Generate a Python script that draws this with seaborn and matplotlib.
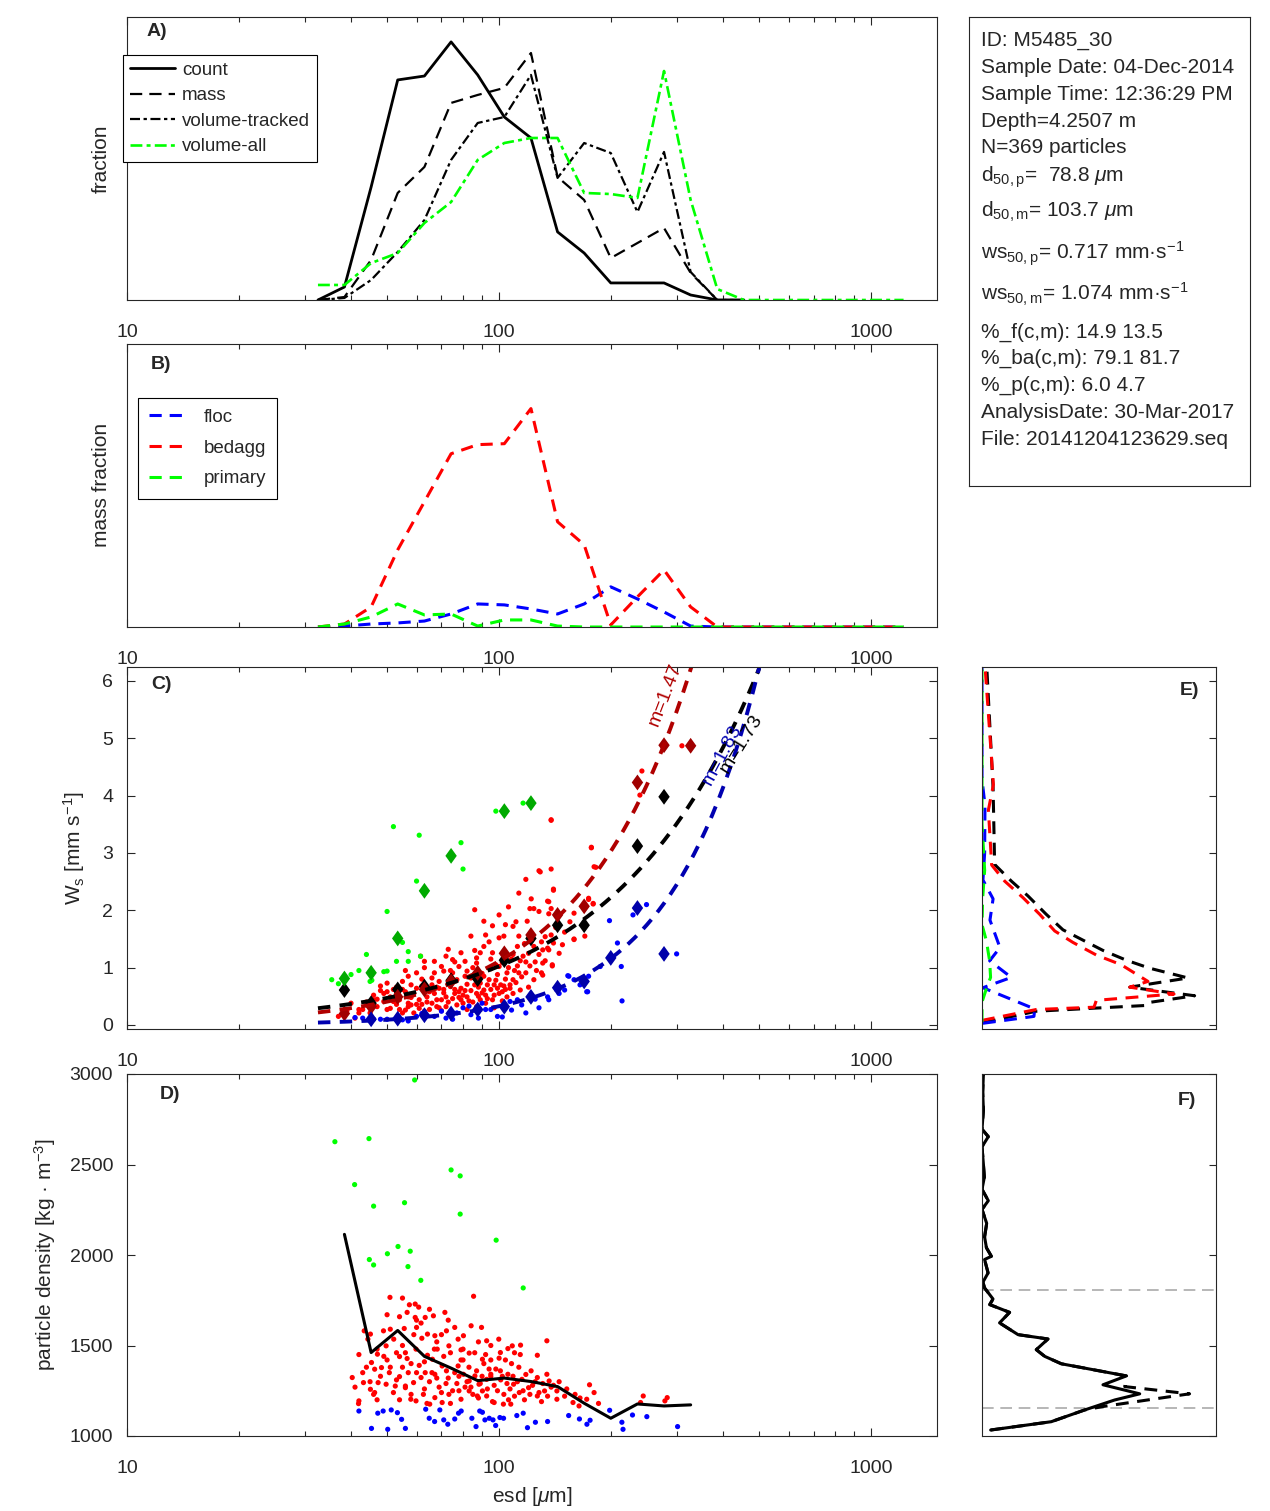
import numpy as np
import pandas as pd
import matplotlib
matplotlib.use('Agg')
import matplotlib.pyplot as plt
import seaborn as sns
from matplotlib.ticker import FixedLocator, NullFormatter, FuncFormatter, LogLocator

sns.set_style('white')
plt.rcParams['font.family'] = ['Liberation Sans', 'DejaVu Sans']
plt.rcParams['mathtext.fontset'] = 'custom'
plt.rcParams['mathtext.rm'] = 'Liberation Sans'
plt.rcParams['mathtext.it'] = 'Liberation Sans:italic'
plt.rcParams['mathtext.bf'] = 'Liberation Sans:bold'

# ---------------- data ----------------
bins = [32.6, 38.4, 45.3, 53.4, 63.0, 74.3, 87.6, 103.3, 121.8, 143.6, 169.3, 199.6,
        235.4, 277.5, 327.2, 385.8, 454.9, 536.4, 632.4, 745.6, 879.1, 1036.5, 1222.0]

count_frac = [0.0, 0.0083, 0.0722, 0.1406, 0.1431, 0.1649, 0.1438, 0.1169, 0.1035, 0.0435,
              0.0300, 0.0109, 0.0109, 0.0109, 0.0032, 0.0, 0.0]
mass_frac = [0.0, 0.0019, 0.0256, 0.0684, 0.0850, 0.1259, 0.1310, 0.1355, 0.1578, 0.0786,
             0.0639, 0.0268, 0.0364, 0.0460, 0.0173, 0.0, 0.0]
voltrk_frac = [0.0, 0.0013, 0.0128, 0.0307, 0.0511, 0.0895, 0.1131, 0.1169, 0.1438, 0.0780,
               0.1003, 0.0939, 0.0562, 0.0946, 0.0179, 0.0, 0.0]
volall_frac = [0.0096, 0.0096, 0.0236, 0.0300, 0.0492, 0.0626, 0.0895, 0.1003, 0.1035, 0.1035,
               0.0684, 0.0677, 0.0652, 0.1463, 0.0639, 0.0070, 0.0, 0.0, 0.0, 0.0, 0.0, 0.0, 0.0]

floc_mass = [0.0, 0.0006, 0.0019, 0.0026, 0.0038, 0.0083, 0.0147, 0.0141, 0.0115, 0.0083,
             0.0147, 0.0256, 0.0179, 0.0096, 0.0006, 0.0, 0.0, 0.0, 0.0, 0.0, 0.0, 0.0, 0.0]
bedagg_mass = [0.0, 0.0019, 0.0128, 0.0492, 0.0799, 0.1105, 0.1163, 0.1169, 0.1393, 0.0671,
               0.0524, 0.0013, 0.0192, 0.0364, 0.0128, 0.0, 0.0, 0.0, 0.0, 0.0, 0.0, 0.0, 0.0]
primary_mass = [0.0, 0.0019, 0.0064, 0.0147, 0.0077, 0.0083, 0.0006, 0.0045, 0.0045, 0.0006,
                0.0, 0.0, 0.0, 0.0, 0.0, 0.0, 0.0, 0.0, 0.0, 0.0, 0.0, 0.0, 0.0]

nan = np.nan
ws_med_all = [nan, 0.61, 0.38, 0.62, 0.67, 0.78, 0.80, 1.13, 1.51, 1.74, 1.74, nan, 3.12, 3.98, nan]
ws_med_bedagg = [nan, 0.20, 0.32, 0.49, 0.62, 0.76, 0.91, 1.25, 1.57, 1.92, 2.07, nan, 4.23, 4.88, 4.87]
ws_med_floc = [nan, nan, 0.10, 0.11, 0.17, 0.20, 0.27, 0.32, 0.49, 0.65, 0.76, 1.17, 2.04, 1.24, nan]
ws_med_primary = [nan, 0.81, 0.91, 1.51, 2.34, 2.95, nan, 3.73, 3.87, nan, nan, nan, nan, nan, nan]

# power-law fits ws = a * d^b
fit_bedagg = (0.0014, 1.45)
fit_all = (0.0059, 1.12)
fit_floc = (7.17e-5, 1.83)
fit_range = (32.6, 500.0)

rho_med_all = [2114, 1461, 1583, 1440, 1375, 1306, 1320, 1301, 1273, 1181, 1098, 1177, 1166, 1172]

# individual particles, panel C (esd um, ws mm/s)
red_c = [(138,3.57),(177,3.10),(128,2.69),(138,2.72),(118,2.54),(182,2.75),(113,2.30),(140,2.37),
         (86,2.01),(106,2.06),(121,2.03),(124,2.03),(135,2.16),(100,1.92),(96,1.73),(91,1.81),
         (104,1.75),(109,1.72),(119,1.81),(128,1.98),(136,1.94),(84,1.55),(92,1.57),(100,1.52),
         (113,1.55),(133,1.54),(159,1.95),(174,2.21),(179,2.11),(159,1.50),(138,1.57),
         (73,1.32),(75,1.14),(79,1.26),(81,1.11),(87,1.17),(89,1.26),(96,1.26),(98,1.05),
         (102,1.09),(109,1.23),(112,1.03),(116,1.20),(121,1.03),(128,1.23),(135,1.34),(139,1.05),
         (124,1.37),(63,1.11),(67,1.11),(72,1.20),(76,1.10),(61.5,1.20),(87,1.08),(91,1.37),
         (112,1.37),(117,1.42),
         (60,0.91),(63,1.0),(67,0.91),(71,0.94),(75,0.91),(81,0.85),(82,0.94),(91,0.85),(94,0.79),
         (99,0.88),(105,0.91),(109,0.79),(113,0.91),(118,0.91),(124,0.79),(130,0.91),(103,0.68),
         (97,0.70),(89,0.73),(77,0.79),(57,0.85),(55,0.76),(50,0.73),(48,0.68),(69,0.76),(74,0.67),
         (82,0.71),(87,0.79),(100,1.02),
         (49,0.55),(51,0.49),(54,0.44),(57,0.49),(59,0.55),(61,0.44),(64,0.49),(67,0.55),(70,0.44),
         (72,0.49),(76,0.55),(79,0.44),(82,0.49),(87,0.55),(89,0.44),(92,0.52),(96,0.44),(100,0.55),
         (105,0.49),(109,0.55),(114,0.61),(65,0.27),(68,0.32),(61,0.29),(57,0.32),(54,0.27),
         (51,0.29),(47,0.32),(46,0.44),(45,0.21),(42,0.21),(40,0.38),(72,0.32),(77,0.35),(82,0.27),
         (87,0.32),(53,0.55),(60,0.64),(63,0.61),(69,0.64),(79,0.64),(91,0.61),(99,0.64),(107,0.64),
         (68,0.44),(66,0.38),(52,0.41),(49,0.41),(50,0.27),(57,0.38),(59,0.21),(55,0.21),(42,0.27),
         (43,0.27),
         (310,4.87),(242,4.43),(239,4.01),(138,3.58),(177,3.09),(180,2.76),(129,2.67),(140,2.35),
         (174,2.19),(179,2.12),(136,2.15),(138,2.03),(170,1.55),(159,1.49),(140,1.43),(131,1.31),
         (139,1.03),(131,1.08),(131,0.87),(136,1.31),(37,0.15),(39,0.25),(41,0.12),
         (48,0.60),(52,0.62),(56,0.58),(58,0.35),(62,0.36),(65,0.58),(68,0.66),(71,0.56),(73,0.40),
         (75,0.46),(78,0.58),(80,0.52),(84,0.60),(85,0.40),(88,0.66),(90,0.56),(93,0.70),(95,0.62),
         (97,0.52),(102,0.58),(104,0.80),(107,0.70),(111,0.74),(115,0.84),(120,0.66),(126,0.95),
         (133,1.12),(145,1.25),(150,1.62),(155,1.80),(118,1.10),(108,1.15),(95,1.15),(85,1.00),
         (78,1.02),(70,1.02),(62,0.80),(58,0.70),(53,0.66),(46,0.52),(44,0.40),(56,0.26),(63,0.24),
         (70,0.25),(74,0.23),(80,0.38),(92,0.38),(97,0.30),(102,0.42),(84,0.82),
         (47,0.45),(50,0.58),(53,0.36),(55,0.62),(58,0.48),(60,0.36),(62,0.68),(64,0.40),(66,0.70),
         (69,0.30),(71,0.62),(73,0.72),(76,0.62),(78,0.48),(81,0.60),(83,0.42),(86,0.70),(88,0.50),
         (90,0.90),(93,0.46),(95,0.98),(98,0.78),(101,0.70),(104,0.62),(106,1.00),(110,0.95),
         (114,1.12),(120,1.25),(125,1.10),(130,1.45),(142,1.70),(148,1.40),(56,0.95),(66,0.82),
         (74,0.95),(86,1.30),(94,1.45),(103,1.55),(111,1.80),(122,2.20)]
green_c = [(52,3.46),(61,3.31),(79,3.18),(50,1.98),(60,2.51),(80,2.72),(55,1.44),(98,3.73),
           (116,3.87),(44,1.23),(57,1.28),(61.5,1.20),(53,1.11),(57,1.11),(49,0.93),(50,0.94),
           (45,0.76),(45.5,0.78),(35.5,0.79),(40,0.88),(37,0.72),(42,0.95)]
blue_c = [(154,0.85),(187,1.02),(159,0.79),(172,0.58),(150,0.61),(118,0.21),(112,0.44),(103,0.32),
          (99,0.15),(90,0.38),(92,0.27),(87,0.27),(80,0.30),(88,0.12),(77,0.21),(70,0.24),(67,0.15),
          (60,0.15),(57,0.07),(55,0.09),(50,0.10),(48,0.10),(46,0.10),(43,0.12),(41,0.13),(102,0.14),
          (75,0.10),(107,0.41),(135,0.49),(95,0.27),(249,2.10),(229,1.92),(198,1.82),(208,1.43),
          (213,1.02),(300,1.24),(214,0.42),(174,0.85),(173,0.58),(153,0.86),(136,0.44),(62,0.20),
          (72,0.12),(84,0.18),(108,0.26),(115,0.35),(125,0.45),(128,0.30),(145,0.55),(165,0.70),
          (83,0.33)]

# individual particles, panel D (esd um, density kg/m3)
red_d = [(50.9,1766),(55,1762),(85.4,1772),(57.4,1725),(59.5,1729),(60.8,1712),(50,1670),(54,1659),
         (56.6,1683),(63.3,1655),(66.6,1664),(71.5,1683),(73,1640),(59.5,1655),(84.1,1609),(89.7,1600),
         (48.9,1581),(51,1590),(55.6,1594),(64.2,1563),(61.7,1624),(67.2,1554),(72.2,1581),(77.6,1535),
         (80.2,1554),(92.6,1526),(99.8,1535),(105.6,1483),(108.5,1498),(114.2,1502),(134.4,1526),
         (126.7,1446),(100.8,1461),(95,1420),(90.2,1424),(83.1,1458),(79,1476),(73.3,1498),(68.2,1480),
         (66.2,1424),(64.2,1446),(59.8,1480),(56.6,1428),(54,1439),(52.1,1535),(49.7,1498),(47.1,1452),
         (45.4,1406),(44.4,1535),(43.4,1581),(45.1,1563),(46.3,1369),(48.3,1378),(50.7,1350),(54,1328),
         (56,1276),(58.9,1295),(61.7,1323),(63.3,1350),(67.2,1341),(70.3,1387),(72.2,1360),(77.6,1387),
         (80.2,1341),(83.1,1304),(86.1,1332),(88.3,1286),(92.6,1313),(95,1341),(100.8,1360),
         (105.6,1341),(109.4,1286),(115.2,1313),(121.9,1360),(126.7,1323),(134.4,1341),(136.3,1304),
         (132.5,1249),(126.7,1221),(120,1267),(113.3,1240),(107.5,1176),(102.7,1176),(97,1185),
         (92.6,1221),(90.2,1249),(87.4,1221),(83.1,1249),(79,1203),(73.3,1230),(70.3,1185),(67.2,1212),
         (65.1,1176),(62.6,1230),(59.8,1194),(57.9,1203),(56,1267),(52.6,1276),(49.7,1286),(47.3,1295),
         (45.1,1258),(43.2,1295),(46.3,1240),(42,1194),(40.3,1323),(41.9,1179),(175,1283),(180,1240),
         (172,1203),(244,1221),(283,1212),(279,1194),(240,1185),(143,1249),(143,1203),(158,1185),
         (164,1166),
         (47,1480),(50,1420),(53,1460),(55,1380),(58,1400),(60,1350),(62,1540),(65,1300),(67,1480),
         (69,1270),(71,1440),(73,1320),(75,1250),(77,1290),(79,1420),(81,1270),(83,1380),(85,1230),
         (87,1360),(89,1290),(91,1400),(93,1260),(95,1330),(97,1280),(99,1250),(101,1310),(103,1230),
         (105,1290),(107,1260),(110,1220),(112,1300),(116,1250),(118,1340),(123,1280),(128,1240),
         (131,1290),(138,1270),(145,1300),(152,1260),(160,1230),(48,1330),(52,1240),(57,1350),
         (63,1260),(68,1320),(74,1460),(78,1330),(84,1270),(94,1370),(100,1430),(108,1400),(114,1450),
         (60,1600),(70,1560),(76,1600),(88,1520),(44,1380),(46,1230),(42,1450),(55,1500),
         (41,1270),(43,1350),(45,1300),(47,1200),(49,1440),(51,1380),(53,1310),(54,1200),(56,1460),
         (58,1230),(59,1560),(61,1390),(63,1410),(64,1180),(66,1350),(68,1520),(70,1240),(72,1290),
         (74,1180),(76,1350),(78,1250),(80,1420),(82,1300),(86,1460),(88,1210),(90,1330),(92,1450),
         (96,1190),(98,1370),(102,1330),(104,1420),(106,1200),(109,1330),(113,1380),(117,1200),
         (121,1230),(125,1300),(130,1190),(135,1220),(140,1280),(150,1220),(165,1210),(185,1180),
         (60,1640),(65,1700),(80,1480),(95,1500),(110,1460)]
green_d = [(59.3,2967),(36.2,2626),(44.7,2643),(40.9,2389),(46.0,2270),(55.7,2289),(74.3,2470),
           (78.6,2437),(78.6,2226),(98.2,2082),(53.5,2047),(50.1,2007),(57.7,2021),(44.8,1975),
           (46.0,1945),(56.9,1936),(61.6,1860),(116.1,1818)]
blue_d = [(42.0,1138),(45.4,1042),(50.2,1037),(56.0,1042),(47.2,1126),(48.8,1138),(51.3,1144),
          (53.3,1129),(54.7,1092),(63.5,1148),(64.9,1098),(67.1,1080),(69.3,1144),(71.0,1089),
          (72.8,1065),(76.0,1094),(77.8,1126),(79.1,1138),(84.5,1098),(86.7,1052),(88.7,1138),
          (90.2,1131),(91.6,1089),(94.1,1098),(96.3,1089),(97.9,1058),(100.5,1102),(102.8,1098),
          (111.6,1113),(116.1,1126),(119.2,1046),(125.2,1076),(135,1080),(153.8,1113),(164.4,1094),
          (172.2,1065),(175.6,1087),(198.2,1142),(213.8,1076),(215.3,1037),(228.3,1116),(249.5,1107),
          (301.8,1052)]

# panel E: ws distributions (percent vs ws)
E_all_ws = [0.04, 0.24, 0.34, 0.39, 0.51, 0.66, 0.82, 0.99, 1.13, 1.30, 1.48, 1.66, 1.93, 2.25, 2.51, 2.80, 4.14, 6.28]
E_all_pct = [0.06, 3.48, 10.47, 10.64, 13.63, 9.47, 13.21, 10.75, 9.25, 7.76, 6.47, 5.19, 4.12, 2.95, 1.88, 0.81, 0.71, 0.30]
E_bedagg_ws = [0.08, 0.27, 0.31, 0.43, 0.54, 0.66, 0.76, 1.05, 1.22, 1.44, 1.64, 1.93, 2.22, 2.51, 2.79, 3.75, 4.19, 6.27]
E_bedagg_pct = [0.0, 3.48, 7.18, 7.33, 12.31, 9.47, 10.64, 8.93, 7.33, 5.83, 4.66, 3.70, 2.63, 1.45, 0.62, 0.41, 0.73, 0.19]
E_floc_ws = [0.03, 0.15, 0.28, 0.65, 0.83, 1.12, 1.35, 1.83, 2.2, 2.53, 3.0, 3.84, 4.28, 6.27]
E_floc_pct = [0.06, 3.33, 3.38, 0.06, 1.88, 0.49, 1.15, 0.51, 0.71, 0.06, 0.17, 0.19, 0.0, 0.0]
E_primary_ws = [0.05, 0.4, 0.65, 0.83, 1.12, 1.3, 1.45, 1.75, 2.2, 2.7, 3.5, 4.5, 6.27]
E_primary_pct = [0.0, 0.0, 0.30, 0.55, 0.49, 0.38, 0.30, 0.0, 0.04, 0.17, 0.0, 0.0, 0.0]

# panel F: density distributions (percent vs density)
F_count_rho = [1033, 1079, 1144, 1199, 1233, 1283, 1332, 1375, 1399, 1440, 1477, 1536, 1560, 1625, 1683,
               1726, 1757, 1818, 1850, 1901, 1975, 1993, 2040, 2100, 2175, 2252, 2300, 2363, 2430, 2501,
               2598, 2654, 2695, 2800, 2900, 3000]
F_count_pct = [0.37, 2.96, 4.39, 5.67, 6.74, 5.17, 6.17, 4.39, 3.39, 2.68, 2.32, 2.82, 1.54, 0.75, 1.18,
               0.33, 0.47, 0.11, 0.04, 0.26, 0.11, 0.40, 0.19, 0.11, 0.20, 0.0, 0.27, 0.0, 0.10, 0.06,
               0.0, 0.27, 0.0, 0.06, 0.03, 0.06]
F_mass_rho = [1033, 1079, 1144, 1163, 1233, 1273, 1332, 1375, 1399, 1440, 1477, 1536, 1560, 1625, 1683,
              1726, 1757, 1818, 1850, 1901, 1975, 1993, 2040, 2100, 2175, 2252, 2300, 2363, 2430, 2501,
              2598, 2654, 2695, 2800, 2900, 3000]
F_mass_pct = [0.37, 2.96, 4.39, 5.17, 8.87, 6.10, 6.17, 4.39, 3.39, 2.68, 2.32, 2.82, 1.54, 0.75, 1.18,
              0.33, 0.47, 0.11, 0.04, 0.26, 0.11, 0.40, 0.19, 0.11, 0.20, 0.0, 0.27, 0.0, 0.10, 0.06,
              0.0, 0.27, 0.0, 0.06, 0.03, 0.06]
F_ref_rho = [1157, 1809]

info_lines = [
    ("ID: M5485_30", 46),
    ("Sample Date: 04-Dec-2014", 73),
    ("Sample Time: 12:36:29 PM", 100),
    ("Depth=4.2507 m", 127),
    ("N=369 particles", 153),
    (r"d$_{\mathrm{50,p}}$=  78.8 $\mu$m", 182),
    (r"d$_{\mathrm{50,m}}$= 103.7 $\mu$m", 217),
    (r"ws$_{\mathrm{50,p}}$= 0.717 mm·s$^{\mathrm{-1}}$", 259),
    (r"ws$_{\mathrm{50,m}}$= 1.074 mm·s$^{\mathrm{-1}}$", 301),
    ("%_f(c,m): 14.9 13.5", 338),
    ("%_ba(c,m): 79.1 81.7", 364),
    ("%_p(c,m): 6.0 4.7", 391),
    ("AnalysisDate: 30-Mar-2017", 418),
    ("File: 20141204123629.seq", 445),
]

# ---------------- figure ----------------
W, H = 1270, 1511
fig = plt.figure(figsize=(W / 100, H / 100), dpi=100)


def px_axes(x0, y0, x1, y1):
    return fig.add_axes([x0 / W, 1 - y1 / H, (x1 - x0) / W, (y1 - y0) / H])


SPC = '#262626'


def style_box(ax):
    for sp in ax.spines.values():
        sp.set_visible(True)
        sp.set_color(SPC)
        sp.set_linewidth(0.8)


def style_logx(ax):
    ax.set_xscale('log')
    ax.set_xlim(10, 1500)
    ax.xaxis.set_major_locator(FixedLocator([10, 100, 1000]))
    ax.xaxis.set_minor_locator(LogLocator(base=10, subs=np.arange(2, 10), numticks=20))
    ax.xaxis.set_major_formatter(FuncFormatter(lambda v, p: f'{v:g}'))
    ax.xaxis.set_minor_formatter(NullFormatter())
    ax.tick_params(axis='x', which='both', direction='in', top=True, bottom=True, color=SPC)
    ax.tick_params(axis='x', which='major', length=6, width=0.8, pad=17.5, labelsize=14)
    ax.tick_params(axis='x', which='minor', length=3.5, width=0.8)


axA = px_axes(127, 17, 936.7, 300)
axB = px_axes(127, 343.5, 936.7, 627)
axC = px_axes(127, 667, 936.7, 1029)
axD = px_axes(127, 1074, 936.7, 1436)
axE = px_axes(982, 667, 1216, 1029)
axF = px_axes(982, 1074, 1216, 1436)
axT = px_axes(969, 17, 1250, 486)

for ax in (axA, axB, axC, axD):
    style_logx(ax)
for ax in (axA, axB, axC, axD, axE, axF, axT):
    style_box(ax)

LIME = '#00ff00'
DASH_A = (0, (5.5, 3.2))
DASHDOT_A = (0, (4.5, 1.6, 1.5, 1.6))
DASH_B = (0, (4.0, 2.6))

# ---- A ----
nA = len(count_frac)
sns.lineplot(x=bins[:nA], y=count_frac, ax=axA, color='k', lw=2.0, errorbar=None, label='count')
sns.lineplot(x=bins[:nA], y=mass_frac, ax=axA, color='k', lw=1.6, linestyle=DASH_A, errorbar=None, label='mass')
sns.lineplot(x=bins[:nA], y=voltrk_frac, ax=axA, color='k', lw=1.6, linestyle=DASHDOT_A, errorbar=None,
             label='volume-tracked')
sns.lineplot(x=bins, y=volall_frac, ax=axA, color=LIME, lw=1.9, linestyle=DASHDOT_A, errorbar=None,
             label='volume-all')
axA.set_ylim(0, 0.1808)
axA.set_yticks([])
axA.set_xlabel('')
axA.set_ylabel('fraction', fontsize=15)
axA.yaxis.set_label_coords(-0.0198, 0.5)
legA = axA.legend(loc='upper left', bbox_to_anchor=(-0.005, 0.866), borderaxespad=0, fontsize=13.5,
                  frameon=True, fancybox=False, edgecolor='k', framealpha=1, handlelength=2.4,
                  handletextpad=0.4, labelspacing=0.45, borderpad=0.35)
legA.get_frame().set_linewidth(0.8)
axA.text(0.037, 0.947, 'A)', transform=axA.transAxes, fontsize=14, fontweight='bold', ha='center', va='center')

# ---- B ----
sns.lineplot(x=bins, y=floc_mass, ax=axB, color='#0000ff', lw=2.2, linestyle=DASH_B, errorbar=None, label='floc')
sns.lineplot(x=bins, y=bedagg_mass, ax=axB, color='#ff0000', lw=2.2, linestyle=DASH_B, errorbar=None, label='bedagg')
sns.lineplot(x=bins, y=primary_mass, ax=axB, color=LIME, lw=2.2, linestyle=DASH_B, errorbar=None, label='primary')
axB.set_ylim(0, 0.1808)
axB.set_yticks([])
axB.set_xlabel('')
axB.set_ylabel('mass fraction', fontsize=15)
axB.yaxis.set_label_coords(-0.0198, 0.5)
legB = axB.legend(loc='upper left', bbox_to_anchor=(0.0136, 0.809), borderaxespad=0, fontsize=13.5,
                  frameon=True, fancybox=False, edgecolor='k', framealpha=1, handlelength=2.1,
                  handletextpad=0.8, labelspacing=0.72, borderpad=0.6)
legB.get_frame().set_linewidth(0.8)
axB.text(0.042, 0.926, 'B)', transform=axB.transAxes, fontsize=14, fontweight='bold', ha='center', va='center')

# ---- C ----
DIAM = [(0, 1), (0.72, 0), (0, -1), (-0.72, 0), (0, 1)]
for pts, col in ((red_c, '#ff0000'), (green_c, LIME), (blue_c, '#0000ff')):
    xs, ys = zip(*pts)
    sns.scatterplot(x=list(xs), y=list(ys), ax=axC, color=col, s=14, linewidth=0, edgecolor='none')
for med, col in ((ws_med_all, 'k'), (ws_med_bedagg, '#a00000'), (ws_med_floc, '#0000aa'),
                 (ws_med_primary, '#00aa00')):
    sns.scatterplot(x=bins[:len(med)], y=med, ax=axC, color=col, s=130, marker=DIAM,
                    linewidth=0, edgecolor='none')
dfit = np.geomspace(fit_range[0], fit_range[1], 150)
for (a, b), col in ((fit_bedagg, '#b00000'), (fit_all, 'k'), (fit_floc, '#0000b0')):
    sns.lineplot(x=dfit, y=a * dfit ** b, ax=axC, color=col, lw=2.8, linestyle=(0, (3.2, 2.4)),
                 errorbar=None)
axC.text(280, 5.76, 'm=1.47', color='#b00000', rotation=69, fontsize=14, ha='center', va='center')
axC.text(398, 4.71, 'm=1.83', color='#0000b0', rotation=62, fontsize=14, ha='center', va='center')
axC.text(448, 4.90, 'm=1.73', color='k', rotation=58, fontsize=14, ha='center', va='center')
axC.set_ylim(-0.07, 6.244)
axC.set_yticks(range(7))
axC.tick_params(axis='y', which='both', direction='in', left=True, right=True, length=6, width=0.8,
                labelsize=14, pad=10, color=SPC)
axC.set_xlabel('')
axC.set_ylabel(r'W$_\mathrm{s}$ [mm s$^{\mathrm{-1}}$]', fontsize=15)
axC.yaxis.set_label_coords(-0.05, 0.5)
axC.text(0.043, 0.953, 'C)', transform=axC.transAxes, fontsize=14, fontweight='bold', ha='center', va='center')

# ---- D ----
for pts, col in ((red_d, '#ff0000'), (green_d, LIME), (blue_d, '#0000ff')):
    xs, ys = zip(*pts)
    sns.scatterplot(x=list(xs), y=list(ys), ax=axD, color=col, s=14, linewidth=0, edgecolor='none')
sns.lineplot(x=bins[1:1 + len(rho_med_all)], y=rho_med_all, ax=axD, color='k', lw=2.2, errorbar=None)
axD.set_ylim(1000, 3000)
axD.set_yticks([1000, 1500, 2000, 2500, 3000])
axD.tick_params(axis='y', which='both', direction='in', left=True, right=True, length=6, width=0.8,
                labelsize=14, pad=10, color=SPC)
axD.set_xlabel(r'esd [$\mu$m]', fontsize=15)
axD.xaxis.set_label_coords(0.5, -0.135)
axD.set_ylabel(r'particle density [kg · m$^{\mathrm{-3}}$]', fontsize=15)
axD.yaxis.set_label_coords(-0.085, 0.5)
axD.text(0.053, 0.942, 'D)', transform=axD.transAxes, fontsize=14, fontweight='bold', ha='center', va='center')

# ---- E ----
for xs, ys, col in ((E_all_pct, E_all_ws, 'k'), (E_bedagg_pct, E_bedagg_ws, '#ff0000'),
                    (E_floc_pct, E_floc_ws, '#0000ff'), (E_primary_pct, E_primary_ws, LIME)):
    sns.lineplot(x=xs, y=ys, ax=axE, color=col, lw=2.2, linestyle=(0, (4.2, 2.8)), sort=False,
                 estimator=None, errorbar=None)
axE.set_xlim(0, 15)
axE.set_ylim(-0.07, 6.244)
axE.set_xticks([])
axE.set_yticks(range(7))
axE.tick_params(axis='y', direction='in', left=False, right=True, labelleft=False, length=5,
                width=0.8, color=SPC)
axE.set_xlabel('')
axE.set_ylabel('')
axE.text(0.885, 0.936, 'E)', transform=axE.transAxes, fontsize=14, fontweight='bold', ha='center', va='center')

# ---- F ----
for r in F_ref_rho:
    axF.axhline(r, color='#aaaaaa', lw=1.2, linestyle=(0, (7, 4)))
sns.lineplot(x=F_mass_pct, y=F_mass_rho, ax=axF, color='k', lw=2.2, linestyle=(0, (4.2, 2.8)), sort=False,
             estimator=None, errorbar=None)
sns.lineplot(x=F_count_pct, y=F_count_rho, ax=axF, color='k', lw=2.2, sort=False,
             estimator=None, errorbar=None)
axF.set_xlim(0, 10)
axF.set_ylim(1000, 3000)
axF.set_xticks([])
axF.set_yticks([1000, 1500, 2000, 2500, 3000])
axF.tick_params(axis='y', direction='in', left=False, right=True, labelleft=False, length=5,
                width=0.8, color=SPC)
axF.set_xlabel('')
axF.set_ylabel('')
axF.text(0.876, 0.928, 'F)', transform=axF.transAxes, fontsize=14, fontweight='bold', ha='center', va='center')

# ---- info box ----
axT.set_xticks([])
axT.set_yticks([])
for s, yb in info_lines:
    fig.text(980.7 / W, 1 - yb / H, s, fontsize=15, ha='left', va='baseline')

fig.savefig('out.png', dpi=100)
